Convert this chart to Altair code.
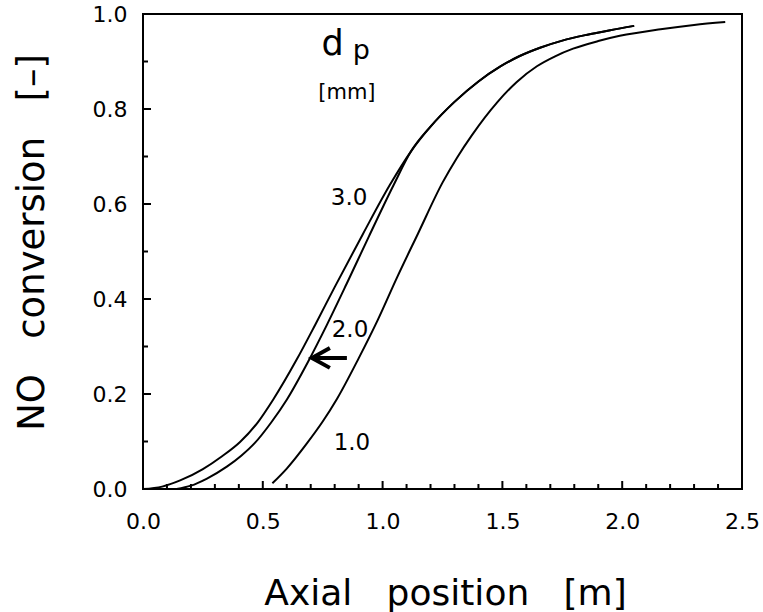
import altair as alt
import pandas as pd

# Curve d_p = 3.0 mm
x3 = [0.00, 0.08, 0.155, 0.25, 0.33, 0.405, 0.48, 0.543, 0.642, 0.72, 0.80, 0.918, 1.03, 1.12,
      1.20, 1.30, 1.40, 1.49, 1.57, 1.657, 1.75, 1.85, 1.95, 2.05]
y3 = [0.000, 0.005, 0.018, 0.042, 0.069, 0.099, 0.141, 0.188, 0.273, 0.347, 0.425, 0.537, 0.640, 0.712,
      0.763, 0.815, 0.858, 0.889, 0.911, 0.929, 0.944, 0.956, 0.966, 0.975]
# Curve d_p = 2.0 mm
x2 = [0.14, 0.20, 0.267, 0.35, 0.41, 0.467, 0.535, 0.60, 0.689, 0.767, 0.85, 0.943, 1.044, 1.12,
      1.20, 1.30, 1.40, 1.49, 1.57, 1.657, 1.75, 1.85, 1.95, 2.05]
y2 = [0.000, 0.007, 0.022, 0.047, 0.070, 0.097, 0.140, 0.188, 0.268, 0.345, 0.432, 0.532, 0.638, 0.712,
      0.763, 0.815, 0.858, 0.889, 0.911, 0.929, 0.944, 0.956, 0.966, 0.975]
# Curve d_p = 1.0 mm
x1 = [0.54, 0.60, 0.684, 0.75, 0.81, 0.90, 0.98, 1.06, 1.148, 1.25, 1.31, 1.373, 1.48, 1.56, 1.644,
      1.72, 1.795, 1.90, 1.99, 2.16, 2.30, 2.43]
y1 = [0.012, 0.043, 0.096, 0.142, 0.190, 0.275, 0.356, 0.445, 0.538, 0.645, 0.697, 0.745, 0.815, 0.857, 0.890,
      0.911, 0.927, 0.943, 0.954, 0.968, 0.977, 0.983]

x_major = [0.0, 0.5, 1.0, 1.5, 2.0, 2.5]
x_minor = [0.1, 0.2, 0.3, 0.4, 0.6, 0.7, 0.8, 0.9, 1.1, 1.2, 1.3, 1.4, 1.6, 1.7, 1.8, 1.9, 2.1, 2.2, 2.3, 2.4]
y_major = [0.0, 0.2, 0.4, 0.6, 0.8, 1.0]
y_minor = [0.1, 0.3, 0.5, 0.7, 0.9]

curve_labels = ["3.0", "2.0", "1.0"]
curve_label_x = [0.86, 0.864, 0.872]
curve_label_y = [0.613, 0.335, 0.097]

# arrow annotation (shaft and head)
arrow_x = [0.851, 0.705]
arrow_y = [0.276, 0.276]
head_x = [0.780, 0.705, 0.780]
head_y = [0.297, 0.276, 0.255]

rows = []
for name, xs, ys in [("3.0", x3, y3), ("2.0", x2, y2), ("1.0", x1, y1)]:
    for i, (a, b) in enumerate(zip(xs, ys)):
        rows.append({"dp": name, "x": a, "y": b, "o": i})
curves = pd.DataFrame(rows)

xscale = alt.Scale(domain=[0, 2.5], nice=False, zero=False)
yscale = alt.Scale(domain=[0, 1], nice=False, zero=False)

FONT = "DejaVu Sans"
SP = "\u00a0\u00a0\u00a0"

xaxis = alt.Axis(values=x_major, format=".1f", ticks=False, tickSize=0, domain=False, grid=False,
                 labelFont=FONT, labelFontSize=22, labelColor="black", labelPadding=22,
                 labelFlush=False, labelOverlap=False,
                 title=f"Axial{SP}position{SP}[m]", titleFont=FONT, titleFontSize=36,
                 titleFontWeight="normal", titleColor="black", titleX=302, titleY=115,
                 titleAlign="center", titleBaseline="alphabetic")
yaxis = alt.Axis(values=y_major, format=".1f", ticks=False, tickSize=0, domain=False, grid=False,
                 labelFont=FONT, labelFontSize=22, labelColor="black", labelPadding=16,
                 labelFlush=False, labelOverlap=False,
                 title=f"NO{SP}conversion{SP}[–]", titleFont=FONT, titleFontSize=37,
                 titleFontWeight="normal", titleColor="black", titleX=-100, titleY=228,
                 titleAngle=270, titleAlign="center", titleBaseline="alphabetic")


def X(field="x"):
    return alt.X(f"{field}:Q", scale=xscale, axis=xaxis)


def Y(field="y"):
    return alt.Y(f"{field}:Q", scale=yscale, axis=yaxis)


lines = alt.Chart(curves).mark_line(color="black", strokeWidth=2, interpolate="monotone").encode(
    x=X(), y=Y(), detail="dp:N", order="o:Q")

xmaj = alt.Chart(pd.DataFrame({"x": x_major[1:-1]})).mark_rule(color="black", strokeWidth=2).encode(
    x=X(), y=alt.value(475), y2=alt.value(467))
xmin = alt.Chart(pd.DataFrame({"x": x_minor})).mark_rule(color="black", strokeWidth=2).encode(
    x=X(), y=alt.value(475), y2=alt.value(470))
ymaj = alt.Chart(pd.DataFrame({"y": y_major[1:-1]})).mark_rule(color="black", strokeWidth=2).encode(
    y=Y(), x=alt.value(0), x2=alt.value(8))
ymin = alt.Chart(pd.DataFrame({"y": y_minor})).mark_rule(color="black", strokeWidth=2).encode(
    y=Y(), x=alt.value(0), x2=alt.value(5))

labels = alt.Chart(pd.DataFrame({"x": curve_label_x, "y": curve_label_y, "t": curve_labels})).mark_text(
    font=FONT, fontSize=23, color="black", align="center", baseline="middle").encode(
    x=X(), y=Y(), text="t:N")

arrow = alt.Chart(pd.DataFrame({"x": arrow_x, "y": arrow_y})).mark_line(
    color="black", strokeWidth=4).encode(x=X(), y=Y())
head = alt.Chart(pd.DataFrame({"x": head_x, "y": head_y, "o": [0, 1, 2]})).mark_line(
    color="black", strokeWidth=4, strokeJoin="miter").encode(x=X(), y=Y(), order="o:Q")

d_txt = alt.Chart(pd.DataFrame({"x": [0.745], "y": [0.914], "t": ["d"]})).mark_text(
    font=FONT, fontSize=35, color="black", align="left", baseline="alphabetic").encode(
    x=X(), y=Y(), text="t:N")
p_txt = alt.Chart(pd.DataFrame({"x": [0.875], "y": [0.905], "t": ["p"]})).mark_text(
    font=FONT, fontSize=27, color="black", align="left", baseline="alphabetic").encode(
    x=X(), y=Y(), text="t:N")
mm_txt = alt.Chart(pd.DataFrame({"x": [0.851], "y": [0.821], "t": ["[mm]"]})).mark_text(
    font=FONT, fontSize=21, color="black", align="center", baseline="alphabetic").encode(
    x=X(), y=Y(), text="t:N")

chart = alt.layer(lines, xmaj, xmin, ymaj, ymin, labels, arrow, head, d_txt, p_txt, mm_txt).properties(
    width=599, height=475,
    padding={"left": 143, "top": 14, "right": 21, "bottom": 123},
    autosize=alt.AutoSizeParams(type="none"),
    background="white",
).configure_view(stroke="black", strokeWidth=2)

chart.save("out.html", embed_options={"renderer": "svg", "actions": False})
